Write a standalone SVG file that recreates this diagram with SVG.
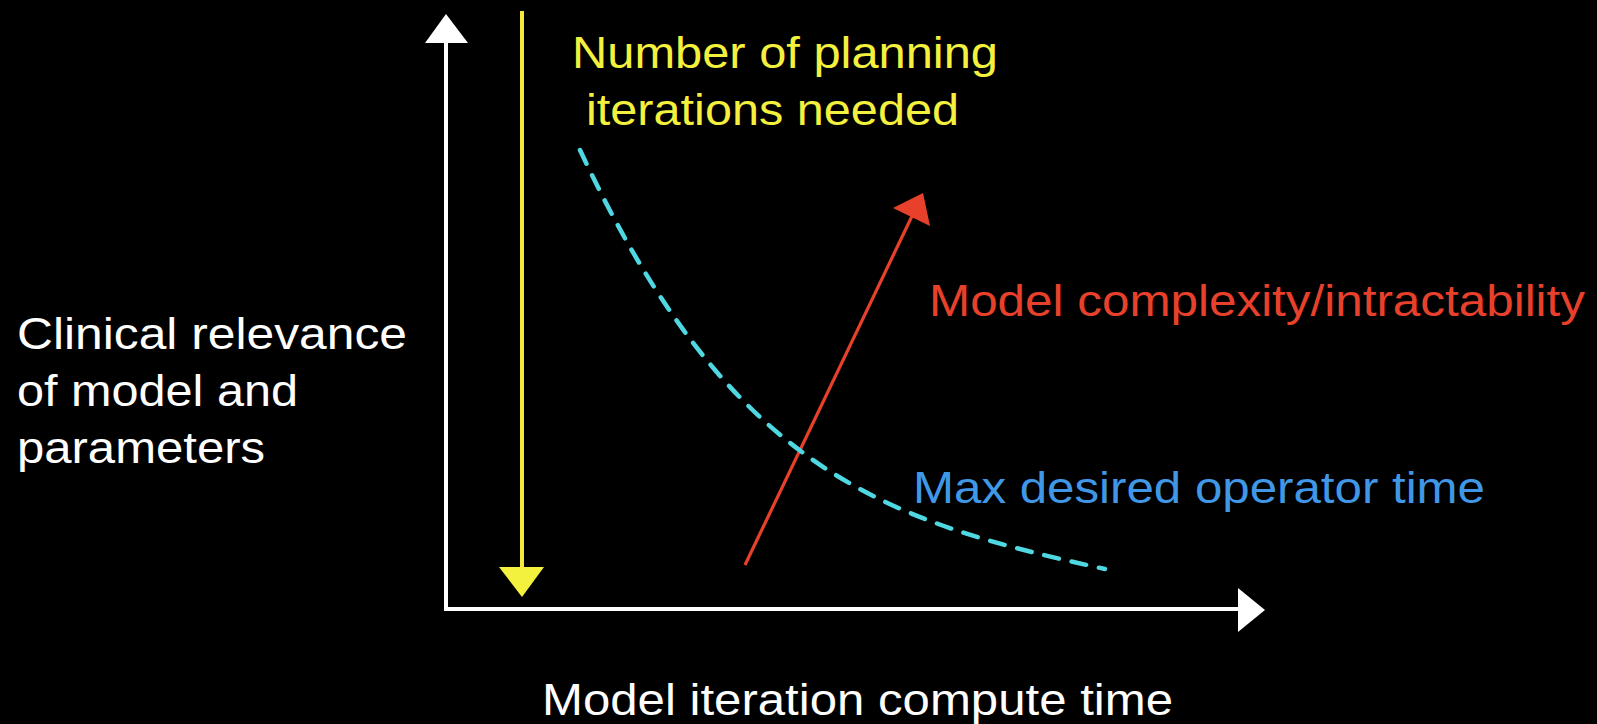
<svg xmlns="http://www.w3.org/2000/svg" width="1597" height="724" viewBox="0 0 1597 724">
<style>
text{font-family:"Liberation Sans",Arial,sans-serif;font-size:45px}
.w{fill:#ffffff}
.y{fill:#f4f03e}
.r{fill:#e8412b}
.b{fill:#3f97e6}
.axis{stroke:#ffffff;stroke-width:4;fill:none}
.yl{stroke:#f4ea3a;stroke-width:4;fill:none}
.rl{stroke:#e8412b;stroke-width:3.2;fill:none}
.cy{stroke:#4fd8e2;stroke-width:4.5;fill:none;stroke-dasharray:15 13;stroke-linecap:round}
</style>
<rect width="1597" height="724" fill="#000000"/>
<g id="connectors">
<g id="y-axis"><line class="axis" x1="446" y1="611" x2="446" y2="42"/><polygon class="w" points="425,43 468,43 446,14"/></g>
<g id="x-axis"><line class="axis" x1="444" y1="609" x2="1239" y2="609"/><polygon class="w" points="1238,588 1238,632 1265,610"/></g>
<g id="iterations-arrow"><line class="yl" x1="522" y1="11" x2="522" y2="568"/><polygon class="y" points="499,567 544,567 522,597"/></g>
<g id="complexity-arrow"><line class="rl" x1="745" y1="565" x2="913" y2="214"/><polygon class="r" points="923,193 893,208 930,226"/></g>
<path id="operator-curve" class="cy" d="M580,150 C730,472 885,521 1105,569"/>
</g>
<g id="label-iterations">
<text class="y" x="572" y="68" font-size="44" textLength="426" lengthAdjust="spacingAndGlyphs">Number of planning</text>
<text class="y" x="586" y="125" font-size="44" textLength="373" lengthAdjust="spacingAndGlyphs">iterations needed</text>
</g>
<g id="label-relevance">
<text class="w" x="17" y="349" font-size="46" textLength="390" lengthAdjust="spacingAndGlyphs">Clinical relevance</text>
<text class="w" x="17" y="406" font-size="46" textLength="281" lengthAdjust="spacingAndGlyphs">of model and</text>
<text class="w" x="17" y="463" font-size="46" textLength="248" lengthAdjust="spacingAndGlyphs">parameters</text>
</g>
<g id="label-complexity">
<text class="r" x="929" y="316" textLength="656" lengthAdjust="spacingAndGlyphs">Model complexity/intractability</text>
</g>
<g id="label-operator">
<text class="b" x="913" y="503" font-size="46" textLength="572" lengthAdjust="spacingAndGlyphs">Max desired operator time</text>
</g>
<g id="label-compute">
<text class="w" x="542" y="715" font-size="48" textLength="631" lengthAdjust="spacingAndGlyphs">Model iteration compute time</text>
</g>
</svg>
